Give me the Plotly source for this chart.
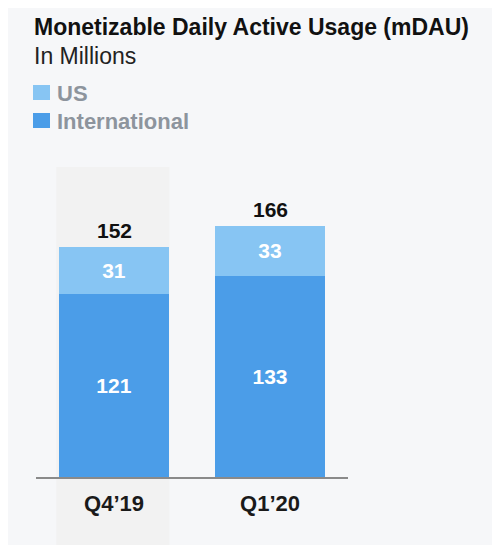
"""Monetizable Daily Active Usage (mDAU) stacked bar chart."""

import plotly.graph_objects as go

quarters = ["Q4\u201919", "Q1\u201920"]
international = [121, 133]
us = [31, 33]
totals = [152, 166]

COLOR_US = "#87c5f3"
COLOR_INTL = "#4b9de8"
FONT = "Liberation Sans, Arial, Helvetica, sans-serif"

# page body has an 8px margin, so the figure is drawn 8px in from the corner
OFFSET = 8
FIG_W, FIG_H = 500 - OFFSET, 545 - OFFSET
# plot area in screen pixels: left 36, width 312, bottom 477, height 312
PLOT_L, PLOT_W, PLOT_B, PLOT_H = 36, 312, 477, 312


def px(x):
    return (x - PLOT_L) / PLOT_W


def py(y):
    return (PLOT_B - y) / PLOT_H


fig = go.Figure()
fig.add_trace(
    go.Bar(
        x=quarters,
        y=international,
        name="International",
        marker={"color": COLOR_INTL, "line": {"width": 0}},
        text=international,
        textposition="inside",
        insidetextanchor="middle",
        textfont={"color": "white", "size": 21, "family": FONT, "weight": "bold"},
        showlegend=False,
    )
)
fig.add_trace(
    go.Bar(
        x=quarters,
        y=us,
        name="US",
        marker={"color": COLOR_US, "line": {"width": 0}},
        text=us,
        textposition="inside",
        insidetextanchor="middle",
        textfont={"color": "white", "size": 21, "family": FONT, "weight": "bold"},
        showlegend=False,
    )
)

# totals above the stacks
for q, t in zip(quarters, totals):
    fig.add_annotation(
        x=q, y=t, text=f"<b>{t}</b>", showarrow=False,
        yanchor="bottom", yshift=3,
        font={"size": 21, "color": "#111111", "family": FONT},
    )

# highlighted column behind Q4'19
fig.add_shape(
    type="rect", xref="x", yref="paper",
    x0=-0.37, x1=0.355, y0=py(545), y1=py(167),
    fillcolor="#f2f2f2", line={"width": 0}, layer="below",
)

# title / subtitle
fig.add_annotation(
    xref="paper", yref="paper", x=px(32), y=py(27),
    xanchor="left", yanchor="middle", showarrow=False,
    text="<b>Monetizable Daily Active Usage (mDAU)</b>",
    font={"size": 23, "color": "#111111", "family": FONT},
)
fig.add_annotation(
    xref="paper", yref="paper", x=px(32), y=py(56),
    xanchor="left", yanchor="middle", showarrow=False,
    text="In Millions",
    font={"size": 23, "color": "#222222", "family": FONT},
)

# legend
legend_items = [("US", COLOR_US, 85, 100), ("International", COLOR_INTL, 113, 128)]
for label, color, y0, y1 in legend_items:
    fig.add_shape(
        type="rect", xref="paper", yref="paper",
        x0=px(33), x1=px(50), y0=py(y1), y1=py(y0),
        fillcolor=color, line={"width": 0},
    )
    fig.add_annotation(
        xref="paper", yref="paper", x=px(55), y=py((y0 + y1) / 2 + 1),
        xanchor="left", yanchor="middle", showarrow=False,
        text=f"<b>{label}</b>",
        font={"size": 22, "color": "#8d949d", "family": FONT},
    )

fig.update_layout(
    width=FIG_W,
    height=FIG_H,
    barmode="stack",
    bargap=0.30,
    margin={
        "l": PLOT_L - OFFSET,
        "r": FIG_W - (PLOT_L - OFFSET) - PLOT_W,
        "t": PLOT_B - PLOT_H - OFFSET,
        "b": FIG_H - (PLOT_B - OFFSET),
    },
    paper_bgcolor="#f6f7f9",
    plot_bgcolor="rgba(0,0,0,0)",
    font={"family": FONT},
    xaxis={
        "range": [-0.5, 1.5],
        "showline": True,
        "linecolor": "#8a8a8a",
        "linewidth": 1.5,
        "showgrid": False,
        "ticks": "",
        "ticklabelstandoff": 6,
        "tickfont": {"size": 22, "color": "#1a1a1a", "family": FONT, "weight": "bold"},
        "fixedrange": True,
    },
    yaxis={
        "range": [0, 206],
        "visible": False,
        "showgrid": False,
        "zeroline": False,
        "fixedrange": True,
    },
    showlegend=False,
)

fig.write_html("out.html")
